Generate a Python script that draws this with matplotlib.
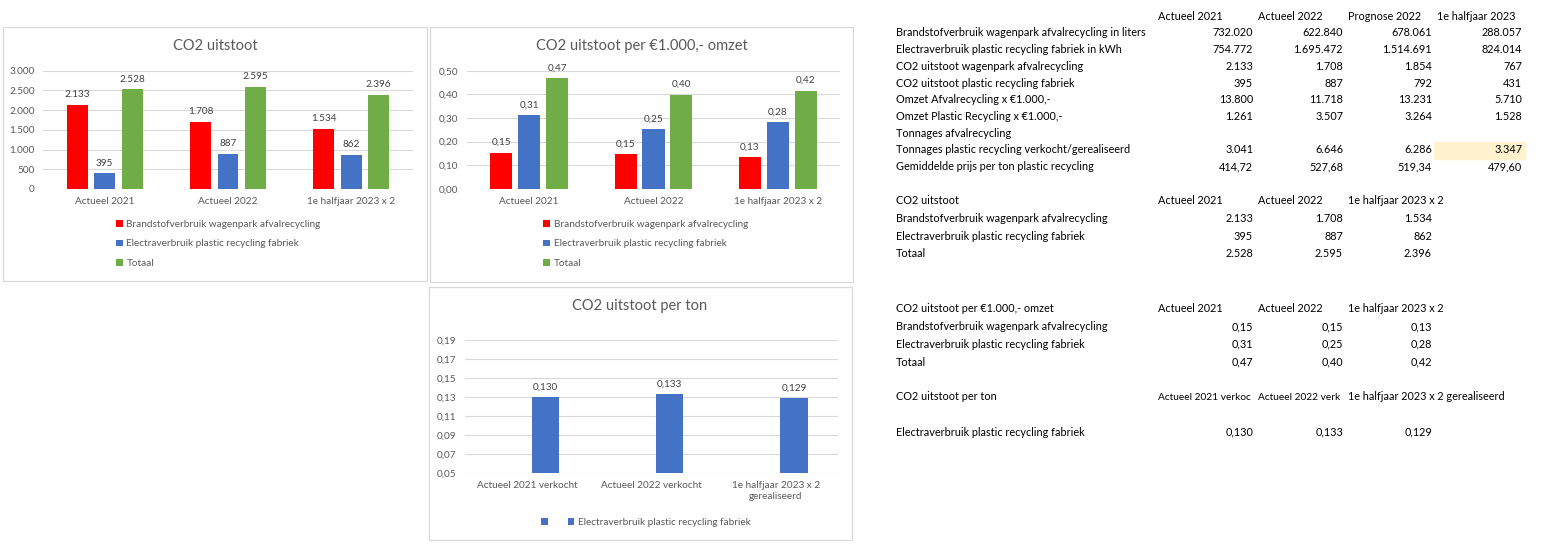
import matplotlib
matplotlib.use("Agg")
import matplotlib.pyplot as plt
import numpy as np
from matplotlib.patches import Rectangle
from matplotlib.ticker import FixedLocator, FuncFormatter

plt.rcParams["font.family"] = ["Lato", "DejaVu Sans"]

# --- chart data ---
categories = ["Actueel 2021", "Actueel 2022", "1e halfjaar 2023 x 2"]
ton_categories = ["Actueel 2021 verkocht", "Actueel 2022 verkocht", "1e halfjaar 2023 x 2\ngerealiseerd"]
series_names = ["Brandstofverbruik wagenpark afvalrecycling",
                "Electraverbruik plastic recycling fabriek", "Totaal"]

co2_brandstof = [2133, 1708, 1534]
co2_electra = [395, 887, 862]
co2_totaal = [2528, 2595, 2396]

omzet_brandstof = [0.154, 0.146, 0.134]
omzet_electra = [0.313, 0.253, 0.282]
omzet_totaal = [0.468, 0.399, 0.416]

ton_electra = [0.130, 0.133, 0.129]

# --- table data ---
table_headers = ["Actueel 2021", "Actueel 2022", "Prognose 2022", "1e halfjaar 2023"]
table_labels = [
    "Brandstofverbruik wagenpark afvalrecycling in liters",
    "Electraverbruik plastic recycling fabriek in kWh",
    "CO2 uitstoot wagenpark afvalrecycling",
    "CO2 uitstoot plastic recycling fabriek",
    "Omzet Afvalrecycling x €1.000,-",
    "Omzet Plastic Recycling x €1.000,-",
    "Tonnages afvalrecycling",
    "Tonnages plastic recycling verkocht/gerealiseerd",
    "Gemiddelde prijs per ton plastic recycling",
]
brandstof_liters = [732020, 622840, 678061, 288057]
electra_kwh = [754772, 1695472, 1514691, 824014]
co2_wagenpark = [2133, 1708, 1854, 767]
co2_fabriek = [395, 887, 792, 431]
omzet_afval = [13800, 11718, 13231, 5710]
omzet_plastic = [1261, 3507, 3264, 1528]
tonnages_afval = [None, None, None, None]
tonnages_plastic = [3041, 6646, 6286, 3347]
prijs_per_ton = [414.72, 527.68, 519.34, 479.60]
# as shown in the sheet: the first two headers are cut off by the next cell
ton_headers = ["Actueel 2021 verkoc", "Actueel 2022 verk", "1e halfjaar 2023 x 2 gerealiseerd"]

RED, BLUE, GREEN = "#FF0000", "#4472C4", "#70AD47"
GREY_TXT, LABEL_TXT, GRID = "#595959", "#404040", "#D9D9D9"

W, H = 1543, 554


def px_rect(l, t, r, b):
    return [l / W, 1 - b / H, (r - l) / W, (b - t) / H]


def fx(x):
    return x / W


def fy(y):
    return 1 - y / H


def nl(v, dec=0):
    s = f"{v:,.{dec}f}"
    return s.replace(",", "X").replace(".", ",").replace("X", ".")


def style_axis(ax, ticks, dec):
    for sp in ax.spines.values():
        sp.set_visible(False)
    ax.set_axisbelow(True)
    ax.yaxis.grid(True, color=GRID, lw=0.8)
    ax.yaxis.set_major_locator(FixedLocator(ticks))
    ax.yaxis.set_major_formatter(FuncFormatter(lambda v, p: nl(v, dec)))
    ax.set_ylim(ticks[0], ticks[-1])
    ax.set_xlim(-0.5, 2.5)
    ax.tick_params(length=0, labelsize=7.2, colors=GREY_TXT)
    ax.tick_params(axis="y", pad=6)
    ax.tick_params(axis="x", pad=6)
    ax.patch.set_alpha(0)


def grouped(ax, series, colors, width, step, dec, labels):
    x = np.arange(3)
    n = len(series)
    handles = []
    for i, (vals, col) in enumerate(zip(series, colors)):
        off = (i - (n - 1) / 2) * step
        bars = ax.bar(x + off, vals, width, color=col)
        ax.bar_label(bars, labels=[nl(v, dec) for v in vals], padding=4,
                     fontsize=7.2, color=LABEL_TXT)
        handles.append(bars)
    ax.set_xticks(x)
    ax.set_xticklabels(labels)
    return handles


def panel_box(l, t, r, b):
    fig.patches.append(Rectangle((fx(l), fy(b)), (r - l) / W, (b - t) / H,
                                 transform=fig.transFigure, fill=False,
                                 ec=GRID, lw=0.9))


LEG = dict(frameon=False, fontsize=7.2, handlelength=0.65,
           handleheight=0.65, handletextpad=0.4, borderpad=0, borderaxespad=0,
           labelcolor=GREY_TXT)

fig = plt.figure(figsize=(W / 100, H / 100), dpi=100)
LEG["bbox_transform"] = fig.transFigure

panel_box(3, 27, 427, 281)
panel_box(430, 27, 853, 282)
panel_box(429, 287, 852, 540)

# panel 1
ax1 = fig.add_axes(px_rect(43, 70.7, 413, 189))
h1 = grouped(ax1, [co2_brandstof, co2_electra, co2_totaal], [RED, BLUE, GREEN],
             0.17, 0.222, 0, categories)
style_axis(ax1, [0, 500, 1000, 1500, 2000, 2500, 3000], 0)
fig.text(fx(215), fy(46), "CO2 uitstoot", ha="center", va="center",
         fontsize=10.5, color=GREY_TXT)
ax1.legend(h1, series_names, loc="upper left", bbox_to_anchor=(fx(116), fy(220)),
           labelspacing=1.05, **LEG)

# panel 2
ax2 = fig.add_axes(px_rect(467, 70.7, 840, 189))
h2 = grouped(ax2, [omzet_brandstof, omzet_electra, omzet_totaal], [RED, BLUE, GREEN],
             0.177, 0.225, 2, categories)
style_axis(ax2, [0, 0.1, 0.2, 0.3, 0.4, 0.5], 2)
fig.text(fx(642), fy(46), "CO2 uitstoot per €1.000,- omzet", ha="center", va="center",
         fontsize=10.5, color=GREY_TXT)
ax2.legend(h2, series_names, loc="upper left", bbox_to_anchor=(fx(543), fy(220)),
           labelspacing=1.05, **LEG)

# panel 3 (first series is empty in the source sheet, hence the offset bars)
ax3 = fig.add_axes(px_rect(465, 340, 838, 473))
x = np.arange(3)
empty = ax3.bar(x - 0.146, [0, 0, 0], 0.22, color=BLUE)
b3 = ax3.bar(x + 0.146, ton_electra, 0.22, color=BLUE)
ax3.bar_label(b3, labels=[nl(v, 3) for v in ton_electra], padding=4,
              fontsize=7.2, color=LABEL_TXT)
ax3.set_xticks(x)
ax3.set_xticklabels(ton_categories)
style_axis(ax3, [0.05, 0.07, 0.09, 0.11, 0.13, 0.15, 0.17, 0.19], 2)
fig.text(fx(640), fy(306), "CO2 uitstoot per ton", ha="center", va="center",
         fontsize=10.5, color=GREY_TXT)
ax3.legend([empty, b3], ["", series_names[1]], loc="upper left", ncol=2,
           bbox_to_anchor=(fx(541), fy(518)), columnspacing=1.6, **LEG)

# --- tables on the right ---
TFS = 7.85
label_x = 896
head_x = [1158, 1258, 1348, 1437]
val_x = [1253, 1343, 1432, 1522]


def row(y, label, values, dec=0):
    fig.text(fx(label_x), fy(y), label, ha="left", va="center", fontsize=TFS)
    for xr, v in zip(val_x, values):
        if v is not None:
            fig.text(fx(xr), fy(y), nl(v, dec), ha="right", va="center", fontsize=TFS)


def header(y, label, heads, sizes=None):
    if label:
        fig.text(fx(label_x), fy(y), label, ha="left", va="center", fontsize=TFS)
    sizes = sizes or [TFS] * len(heads)
    for xl, h, fs in zip(head_x, heads, sizes):
        fig.text(fx(xl), fy(y), h, ha="left", va="center", fontsize=fs)


fig.patches.append(Rectangle((fx(1434), fy(159)), 91 / W, 17 / H,
                             transform=fig.transFigure, color="#FFF2CC", zorder=0))

header(17, "", table_headers)
table_values = [brandstof_liters, electra_kwh, co2_wagenpark, co2_fabriek,
                omzet_afval, omzet_plastic, tonnages_afval, tonnages_plastic, prijs_per_ton]
for i, (lab, vals) in enumerate(zip(table_labels, table_values)):
    row(33 + 16.7 * i, lab, vals, 2 if lab.startswith("Gemiddelde") else 0)

header(201, "CO2 uitstoot", categories)
row(218.6, series_names[0], co2_brandstof)
row(236.2, series_names[1], co2_electra)
row(253.9, series_names[2], co2_totaal)

header(309, "CO2 uitstoot per €1.000,- omzet", categories)
row(326.5, series_names[0], omzet_brandstof, 2)
row(344, series_names[1], omzet_electra, 2)
row(362, series_names[2], omzet_totaal, 2)

header(397, "CO2 uitstoot per ton", ton_headers, sizes=[7.3, 7.3, TFS])
row(432, series_names[1], ton_electra, 3)

fig.savefig("out.png", dpi=100, facecolor="white")
